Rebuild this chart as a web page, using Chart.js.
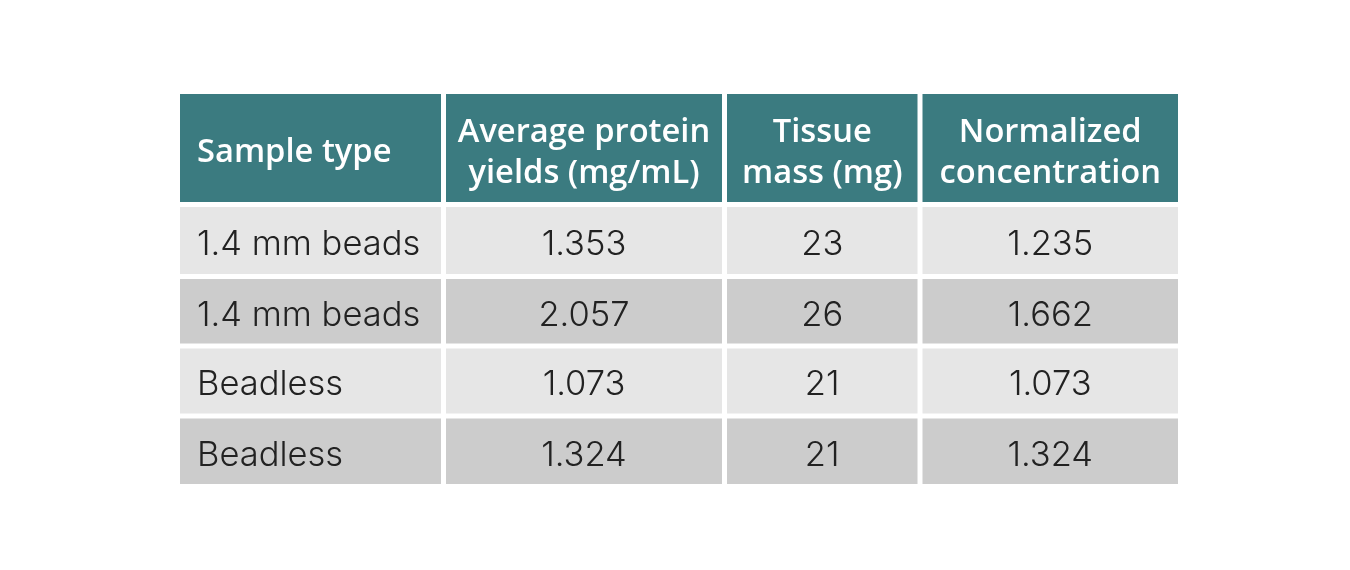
<!DOCTYPE html>
<html>
<head>
<meta charset="utf-8">
<script src="https://cdn.jsdelivr.net/npm/chart.js@4.4.1/dist/chart.umd.min.js"></script>
<style>
  html, body { margin: 0; padding: 0; background: #ffffff; }
  #wrap { width: 1350px; height: 570px; position: relative; }
</style>
</head>
<body>
<div id="wrap"><canvas id="tableChart"></canvas></div>
<script>
// table content
const headers = [['Sample type'], ['Average protein', 'yields (mg/mL)'], ['Tissue', 'mass (mg)'], ['Normalized', 'concentration']];
const sampleTypes = ['1.4 mm beads', '1.4 mm beads', 'Beadless', 'Beadless'];
const proteinYields = ['1.353', '2.057', '1.073', '1.324'];
const tissueMass = ['23', '26', '21', '21'];
const normalizedConc = ['1.235', '1.662', '1.073', '1.324'];

// layout in table units (x: columns, y: rows)
const colWidths = [266, 281, 195.5, 260.5];
const rowHeights = [113, 72, 69.5, 70, 70.5];
const gap = 2.5;

const columns = [sampleTypes, proteinYields, tissueMass, normalizedConc];
const colEdges = [0];
colWidths.forEach(w => colEdges.push(colEdges[colEdges.length - 1] + w));
const rowEdges = [0];
rowHeights.forEach(h => rowEdges.push(rowEdges[rowEdges.length - 1] + h));

const tablePlugin = {
  id: 'tableCells',
  afterDraw(chart) {
    const ctx = chart.ctx;
    const xs = chart.scales.x, ys = chart.scales.y;
    ctx.save();
    for (let r = 0; r < rowHeights.length; r++) {
      for (let c = 0; c < colWidths.length; c++) {
        const x0 = xs.getPixelForValue(colEdges[c]) + gap;
        const x1 = xs.getPixelForValue(colEdges[c + 1]) - gap;
        const y0 = ys.getPixelForValue(rowEdges[r]) + gap;
        const y1 = ys.getPixelForValue(rowEdges[r + 1]) - gap;
        ctx.fillStyle = r === 0 ? '#3b7b80' : (r % 2 === 1 ? '#e6e6e6' : '#cccccc');
        ctx.fillRect(x0, y0, x1 - x0, y1 - y0);

        const cy = (y0 + y1) / 2;
        const tx = c === 0 ? x0 + 17 : (x0 + x1) / 2;
        ctx.textAlign = c === 0 ? 'left' : 'center';
        ctx.textBaseline = 'middle';
        if (r === 0) {
          const lines = headers[c];
          ctx.fillStyle = '#ffffff';
          ctx.font = '600 32.7px "Open Sans"';
          const lh = 41;
          lines.forEach((t, i) => {
            ctx.fillText(t, tx, cy + 5 + (i - (lines.length - 1) / 2) * lh);
          });
        } else {
          ctx.fillStyle = '#222222';
          ctx.font = '300 34.5px Inter';
          ctx.fillText(columns[c][r - 1], tx, cy + 4);
        }
      }
    }
    ctx.restore();
  }
};

new Chart(document.getElementById('tableChart').getContext('2d'), {
  type: 'scatter',
  data: { datasets: [] },
  options: {
    responsive: true,
    maintainAspectRatio: false,
    animation: false,
    layout: { padding: { left: 177.5, right: 169.5, top: 91.5, bottom: 83.5 } },
    plugins: { legend: { display: false }, tooltip: { enabled: false } },
    scales: {
      x: { type: 'linear', display: false, min: 0, max: colEdges[colEdges.length - 1] },
      y: { type: 'linear', display: false, reverse: true, min: 0, max: rowEdges[rowEdges.length - 1] }
    }
  },
  plugins: [tablePlugin]
});
</script>
</body>
</html>
